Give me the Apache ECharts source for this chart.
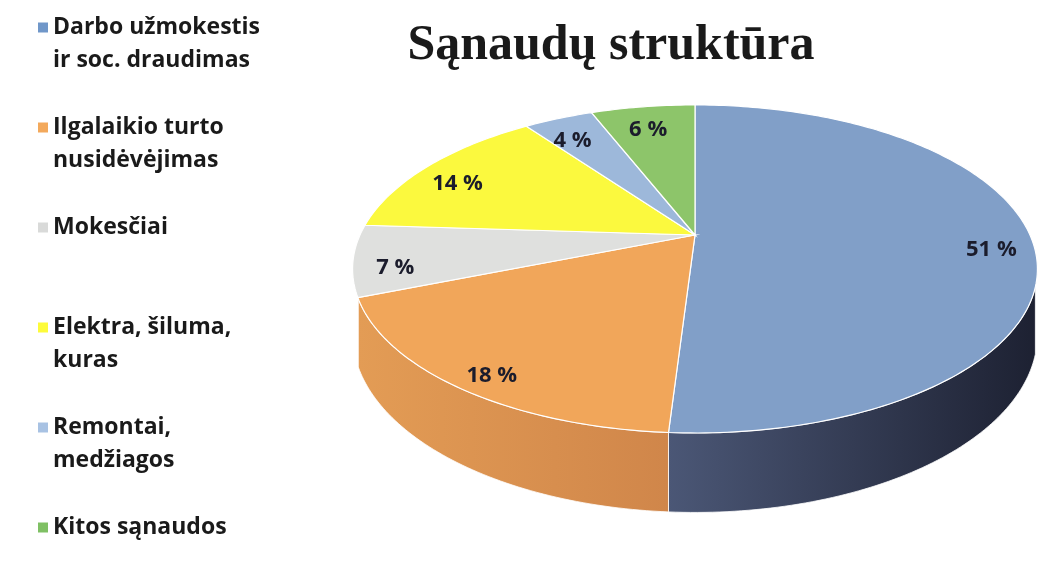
<!DOCTYPE html>
<html>
<head>
<meta charset="utf-8">
<script src="https://cdn.jsdelivr.net/npm/echarts@6/dist/echarts.min.js"></script>
<style>html,body{margin:0;padding:0;background:#fff}#c{width:1040px;height:576px}</style>
</head>
<body>
<div id="c"></div>
<script>
// ---- data ----
const categories = ['Darbo užmokestis ir soc. draudimas', 'Ilgalaikio turto nusidėvėjimas', 'Mokesčiai', 'Elektra, šiluma, kuras', 'Remontai, medžiagos', 'Kitos sąnaudos'];
const legendLines = [['Darbo užmokestis', 'ir soc. draudimas'], ['Ilgalaikio turto', 'nusidėvėjimas'], ['Mokesčiai'], ['Elektra, šiluma,', 'kuras'], ['Remontai,', 'medžiagos'], ['Kitos sąnaudos']];
const values = [51, 18, 7, 14, 4, 6];
const titleText = 'Sąnaudų struktūra';

// ---- styles ----
const topColors = ['#819fc8', '#f1a65a', '#dfe0de', '#fbf93e', '#9db8da', '#8dc56a'];
const legendColors = ['#7097c9', '#f3a95c', '#d9dad9', '#fdfb3a', '#a8c2e3', '#7fc064'];
const wallColors = [['#4b5776', '#1d2132'], ['#e39c55', '#d0864a'], ['#c4c6c4', '#aeb0ae'], ['#d8d630', '#c8c628'], ['#7f95b3', '#6f83a0'], ['#6f9c52', '#5f8a45']];

// ---- projection (3D look) ----
const CX = 695, CY = 235, A = 335, B = 157, K = 0.207, H = 63;
function proj(theta, r, dz) {
  const u = r * Math.sin(theta), v = -r * Math.cos(theta);
  const s = 1 / (1 - K * v);
  return [CX + A * u * s, CY + B * v * s + dz * s];
}
const total = values.reduce((a, b) => a + b, 0);
const visL = 108 * Math.PI / 180, visR = 248 * Math.PI / 180;

function makeRender(i) {
  return function (params, api) {
    const val = api.value(0);
    let start = 0;
    for (let j = 0; j < i; j++) start += values[j];
    const a0 = start / total * 2 * Math.PI;
    const a1 = (start + val) / total * 2 * Math.PI;
    const n = Math.max(4, Math.ceil((a1 - a0) / (Math.PI / 180)));
    const topPts = [proj(0, 0, 0)];
    for (let k = 0; k <= n; k++) topPts.push(proj(a0 + (a1 - a0) * k / n, 1, 0));
    const children = [];
    // wall
    const w0 = Math.max(a0, visL), w1 = Math.min(a1, visR);
    if (w1 > w0) {
      const m = Math.max(4, Math.ceil((w1 - w0) / (Math.PI / 180)));
      const up = [], dn = [];
      for (let k = 0; k <= m; k++) {
        const t = w0 + (w1 - w0) * k / m;
        up.push(proj(t, 1, 0));
        dn.push(proj(t, 1, H));
      }
      const pts = up.concat(dn.reverse());
      children.push({
        type: 'polygon', z2: 0,
        shape: { points: pts },
        style: {
          fill: new echarts.graphic.LinearGradient(0, 0, 1, 0, [
            { offset: 0, color: wallColors[i][0] }, { offset: 1, color: wallColors[i][1] }
          ]),
          stroke: '#ffffff', lineWidth: 0.8
        }
      });
    }
    children.push({
      type: 'polygon', z2: 10,
      shape: { points: topPts },
      style: { fill: topColors[i], stroke: '#ffffff', lineWidth: 1.2 }
    });
    const mid = (a0 + a1) / 2;
    const lp = proj(mid, 0.88, 0);
    children.push({
      type: 'text', z2: 20,
      style: {
        text: val + ' %', x: lp[0], y: lp[1] + 10,
        align: 'center', verticalAlign: 'middle',
        fill: '#1b1c2c', font: 'bold 22px "Open Sans"'
      }
    });
    return { type: 'group', children: children };
  };
}

const series = categories.map((name, i) => ({
  type: 'custom',
  name: name,
  coordinateSystem: 'none',
  itemStyle: { color: legendColors[i] },
  data: [[values[i]]],
  renderItem: makeRender(i),
  silent: true
}));

const chart = echarts.init(document.getElementById('c'), null, { renderer: 'canvas' });
chart.setOption({
  backgroundColor: '#ffffff',
  animation: false,
  title: {
    text: titleText,
    left: 606, textAlign: 'center', top: 16,
    textStyle: { fontFamily: '"Liberation Serif", "DejaVu Serif", serif', fontWeight: 'bold', fontSize: 50, color: '#1a1a1a' }
  },
  legend: {
    orient: 'vertical',
    left: 38, top: -22, height: 700,
    padding: 0,
    itemWidth: 10, itemHeight: 10, itemGap: 1,
    icon: 'rect',
    selectedMode: false,
    data: categories,
    formatter: function (name) {
      const idx = categories.indexOf(name);
      const l = legendLines[idx];
      return '\n' + l.join('\n') + (l.length === 1 ? '\n' : '');
    },
    textStyle: { fontFamily: '"Open Sans", sans-serif', fontWeight: 'bold', fontSize: 23, lineHeight: 33, color: '#1a1a1a' }
  },
  series: series
});
</script>
</body>
</html>
